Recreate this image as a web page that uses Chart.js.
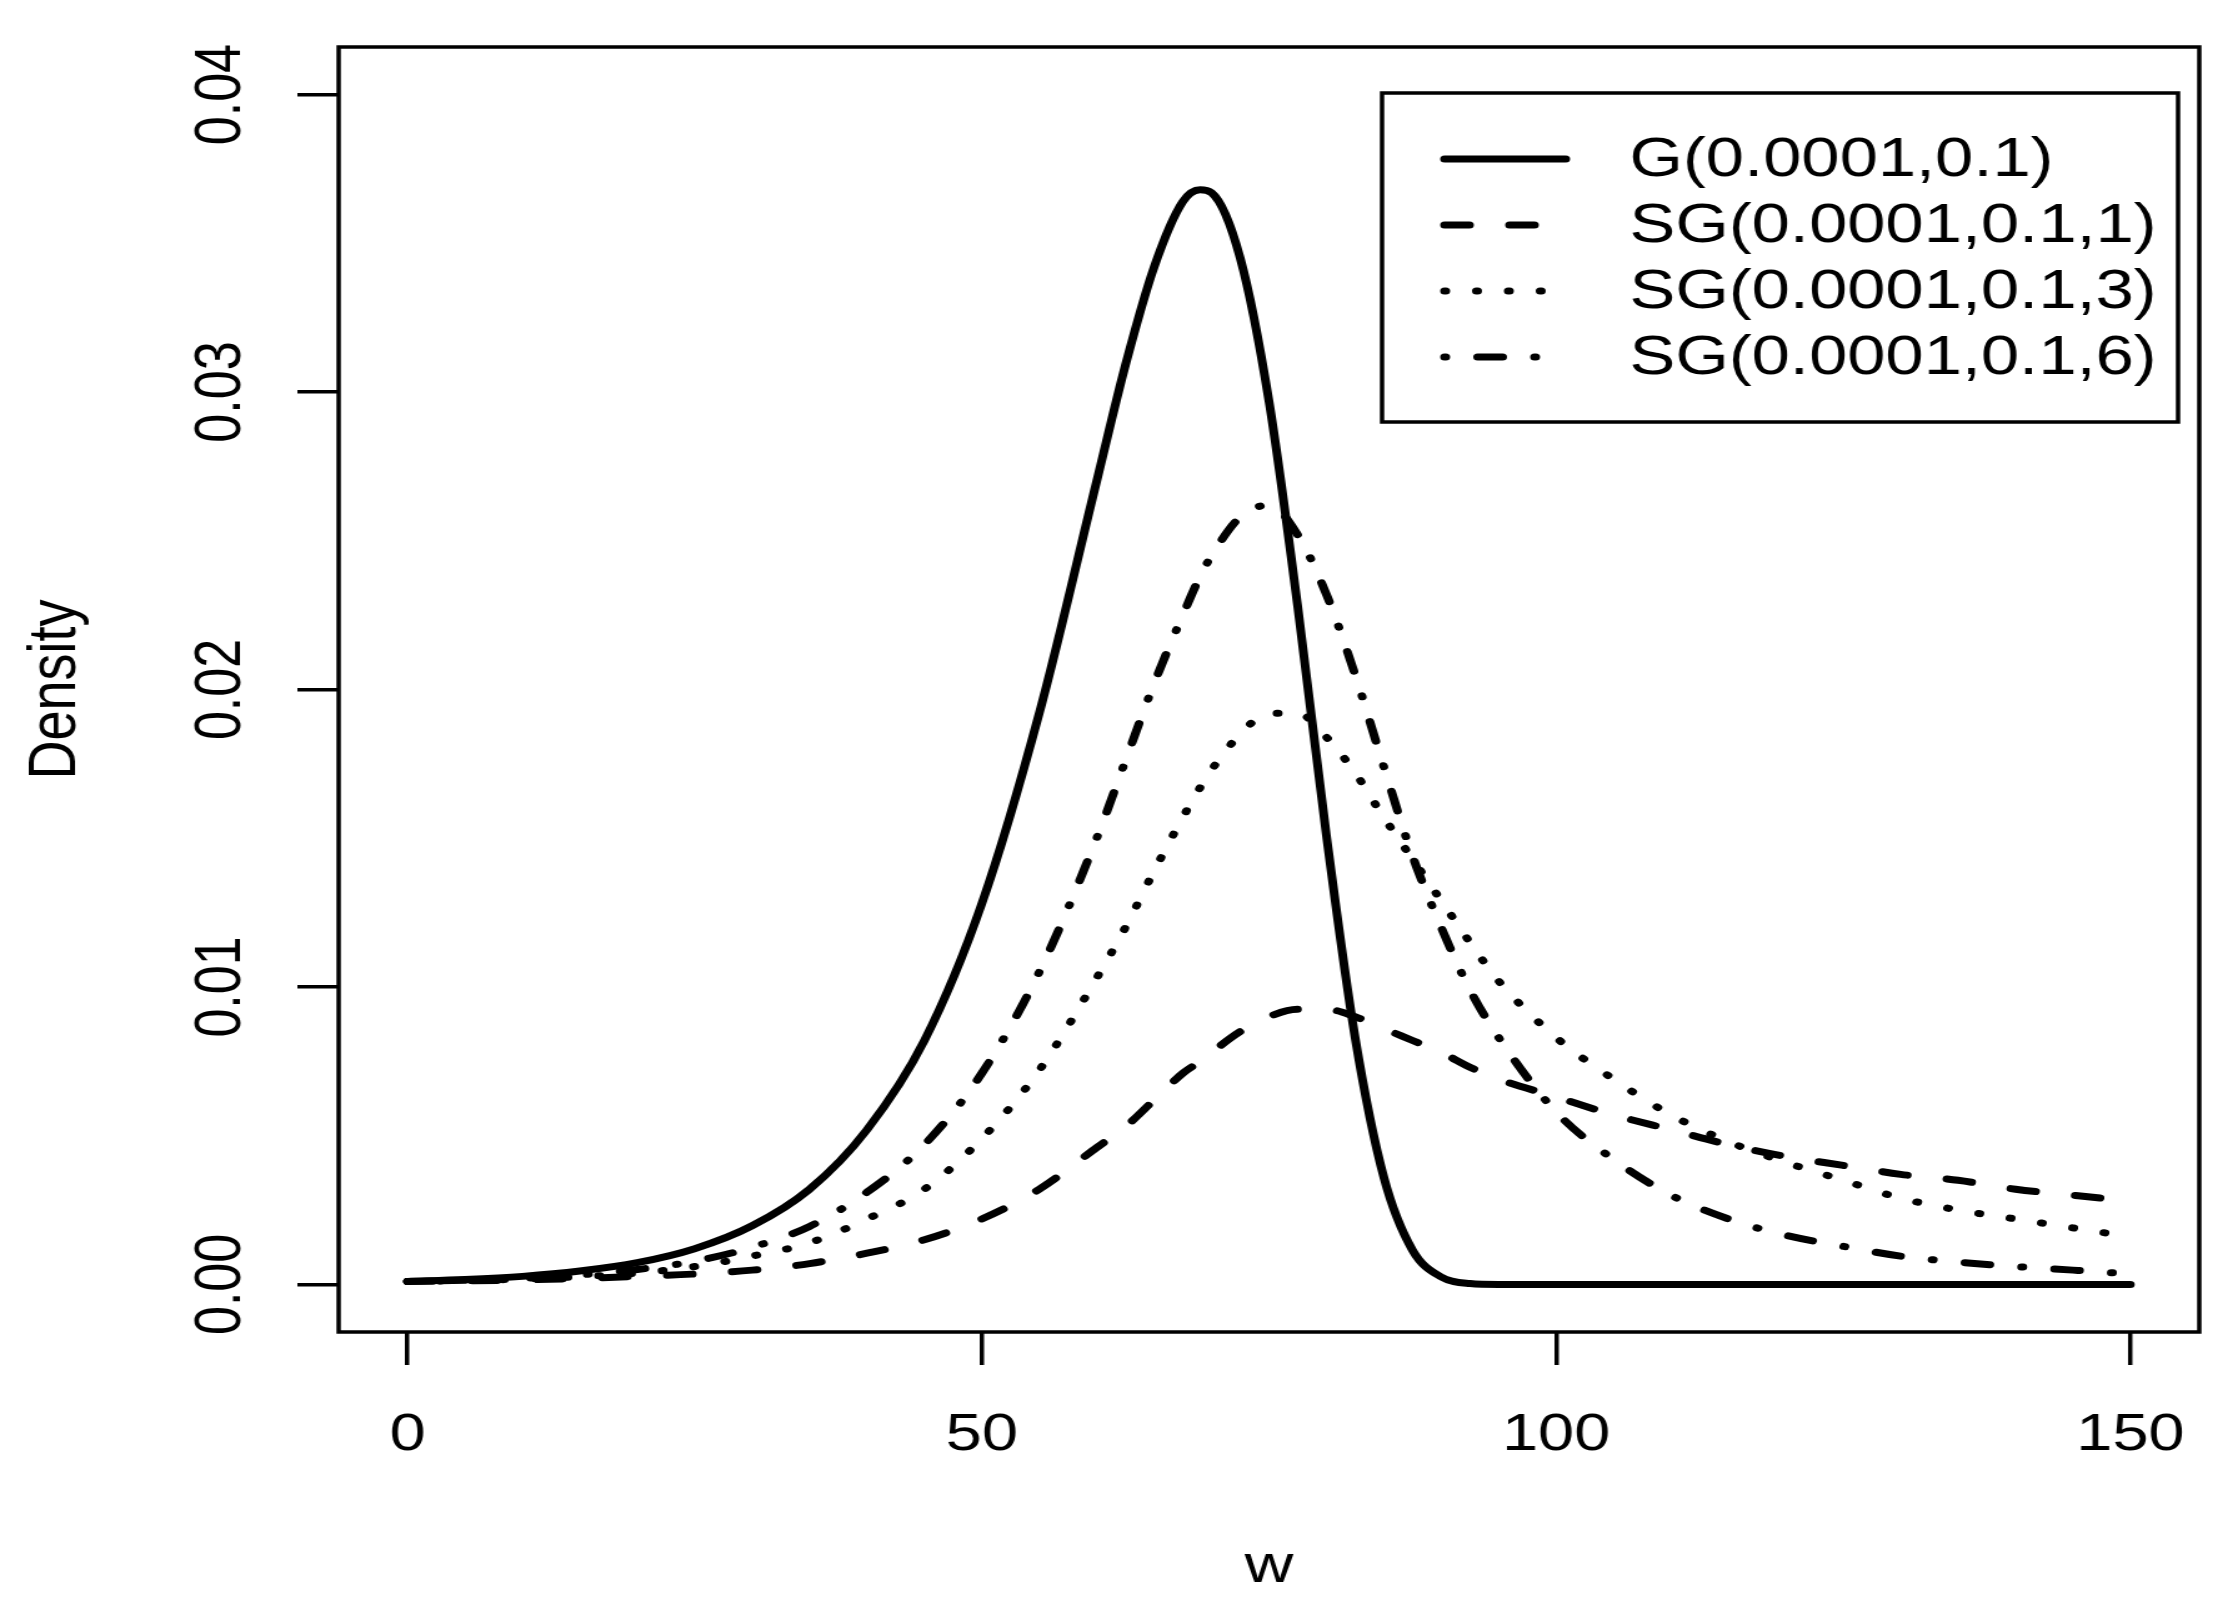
<!DOCTYPE html>
<html>
<head>
<meta charset="utf-8">
<title>Density</title>
<script src="https://cdn.jsdelivr.net/npm/chart.js@4.4.1/dist/chart.umd.min.js"></script>
<style>
  html, body { margin: 0; padding: 0; background: #fff; overflow: hidden; }
  /* the original plot is stretched sideways, so draw narrow and widen */
  #wrap { width: 1779px; height: 1609px; transform: scaleX(1.24958); transform-origin: 0 0; }
  canvas { display: block; }
</style>
</head>
<body>
<div id="wrap"><canvas id="densityChart" width="1779" height="1609"></canvas></div>
<script>
/* values */
const wValues = [0, 5, 10, 15, 20, 25, 30, 35, 40, 45, 50, 55, 60, 62.5, 65, 67.5, 69, 70, 72.5, 75,
  77.5, 80, 82.5, 85, 87.5, 90, 92.5, 95, 100, 105, 110, 115, 120, 125, 130, 135, 140, 145, 150];
const gompertz = [0.0001, 0.000165, 0.00027, 0.00045, 0.00073, 0.0012, 0.00197, 0.0032, 0.0052, 0.0082,
  0.0128, 0.0192, 0.0270, 0.0309, 0.0342, 0.0364, 0.0368, 0.0367, 0.0345, 0.0297,
  0.0228, 0.0151, 0.0083, 0.0036, 0.00115, 0.00025, 0.00003, 0, 0, 0, 0, 0, 0, 0, 0, 0, 0, 0, 0];
const sg1 = [0.0001, 0.00012, 0.00015, 0.0002, 0.00027, 0.00035, 0.00048, 0.0007, 0.00105, 0.0015,
  0.0022, 0.0032, 0.0046, 0.0053, 0.0062, 0.0071, 0.0075, 0.0078, 0.0085, 0.0090,
  0.00925, 0.00925, 0.0090, 0.0086, 0.0082, 0.0078, 0.0073, 0.0069, 0.0063, 0.0057,
  0.0052, 0.0047, 0.0043, 0.0040, 0.0037, 0.0035, 0.0032, 0.0030, 0.0028];
const sg3 = [0.0001, 0.00013, 0.00018, 0.00026, 0.00038, 0.0006, 0.00095, 0.0014, 0.0022, 0.0032,
  0.0049, 0.0072, 0.0103, 0.0120, 0.0139, 0.0157, 0.0167, 0.0173, 0.0185, 0.0192,
  0.0192, 0.0184, 0.0172, 0.0157, 0.0143, 0.0129, 0.0115, 0.0102, 0.0083, 0.0069,
  0.0057, 0.0048, 0.0041, 0.0035, 0.0029, 0.0025, 0.0022, 0.0019, 0.0016];
const sg6 = [0.0001, 0.00014, 0.0002, 0.00032, 0.0005, 0.00078, 0.00125, 0.00195, 0.0031, 0.0047,
  0.0071, 0.0105, 0.0150, 0.0176, 0.0202, 0.0225, 0.0238, 0.0245, 0.0258, 0.0262,
  0.0252, 0.0232, 0.0205, 0.0174, 0.0144, 0.0120, 0.0099, 0.0083, 0.0058, 0.0042,
  0.0030, 0.0022, 0.00165, 0.00128, 0.00095, 0.00075, 0.0006, 0.00048, 0.00035];

const seriesLabels = ['G(0.0001,0.1)', 'SG(0.0001,0.1,1)', 'SG(0.0001,0.1,3)', 'SG(0.0001,0.1,6)'];
const xTicks = [0, 50, 100, 150];
const xTickLabels = ['0', '50', '100', '150'];
const yTicks = [0, 0.01, 0.02, 0.03, 0.04];
const yTickLabels = ['0.00', '0.01', '0.02', '0.03', '0.04'];
const xTitle = 'w';
const yTitle = 'Density';

const FONT = '"Liberation Sans", Arial, Helvetica, sans-serif';
const LW = 7;

function pts(vals) {
  return wValues.map((w, i) => ({ x: w, y: vals[i] }));
}

function series(label, vals, dash) {
  return {
    label: label,
    data: pts(vals),
    borderColor: '#000',
    borderWidth: LW,
    borderDash: dash,
    borderCapStyle: 'round',
    borderJoinStyle: 'round',
    cubicInterpolationMode: 'monotone',
    pointRadius: 0,
    fill: false
  };
}

/* box, tick labels, titles and legend in R style */
const rFrame = {
  id: 'rFrame',
  afterDraw(chart) {
    const ctx = chart.ctx;
    const a = chart.chartArea;
    const xs = chart.scales.x, ys = chart.scales.y;
    ctx.save();
    ctx.strokeStyle = '#000';
    ctx.fillStyle = '#000';
    ctx.lineWidth = 3.5;
    ctx.setLineDash([]);
    ctx.strokeRect(a.left, a.top, a.right - a.left, a.bottom - a.top);

    ctx.font = '52px ' + FONT;
    ctx.textAlign = 'center';
    ctx.textBaseline = 'alphabetic';
    xTicks.forEach((v, i) => {
      ctx.fillText(xTickLabels[i], xs.getPixelForValue(v), 1450);
    });
    yTicks.forEach((v, i) => {
      ctx.save();
      ctx.translate(192, ys.getPixelForValue(v));
      ctx.rotate(-Math.PI / 2);
      ctx.fillText(yTickLabels[i], 0, 0);
      ctx.restore();
    });

    ctx.font = '54px ' + FONT;
    ctx.fillText(xTitle, (a.left + a.right) / 2, 1582);
    ctx.save();
    ctx.translate(60, (a.top + a.bottom) / 2);
    ctx.rotate(-Math.PI / 2);
    ctx.fillText(yTitle, 0, 0);
    ctx.restore();

    // legend
    ctx.lineWidth = 3.5;
    ctx.strokeRect(1106, 93, 637, 329);
    ctx.font = '55px ' + FONT;
    ctx.textAlign = 'left';
    ctx.textBaseline = 'middle';
    const rows = [159, 225, 291, 357];
    chart.data.datasets.forEach((ds, i) => {
      ctx.save();
      ctx.lineWidth = LW;
      ctx.lineCap = 'round';
      ctx.setLineDash(ds.borderDash || []);
      ctx.beginPath();
      ctx.moveTo(1156, rows[i]);
      ctx.lineTo(1253, rows[i]);
      ctx.stroke();
      ctx.restore();
      ctx.fillText(ds.label, 1304, rows[i] + 2);
    });
    ctx.restore();
  }
};

const tickGrid = {
  display: true,
  drawOnChartArea: false,
  drawTicks: true,
  tickLength: 33,
  lineWidth: 3.5,
  color: '#000'
};

new Chart(document.getElementById('densityChart').getContext('2d'), {
  type: 'line',
  data: {
    datasets: [
      series(seriesLabels[0], gompertz, []),
      series(seriesLabels[1], sg1, [20, 32]),
      series(seriesLabels[2], sg3, [1, 24.5]),
      series(seriesLabels[3], sg6, [1, 25.5, 20, 25.5])
    ]
  },
  options: {
    responsive: false,
    animation: false,
    devicePixelRatio: 1,
    layout: { padding: { top: 47, right: 19, left: 0, bottom: 0 } },
    plugins: { legend: { display: false }, tooltip: { enabled: false } },
    scales: {
      x: {
        type: 'linear',
        min: -6,
        max: 156,
        afterBuildTicks: (s) => { s.ticks = xTicks.map(v => ({ value: v })); },
        afterFit: (s) => { s.height = 277; },
        ticks: { display: false },
        grid: tickGrid,
        border: { display: false }
      },
      y: {
        type: 'linear',
        min: -0.0016,
        max: 0.0416,
        afterBuildTicks: (s) => { s.ticks = yTicks.map(v => ({ value: v })); },
        afterFit: (s) => { s.width = 271; },
        ticks: { display: false },
        grid: tickGrid,
        border: { display: false }
      }
    }
  },
  plugins: [rFrame]
});
</script>
</body>
</html>
